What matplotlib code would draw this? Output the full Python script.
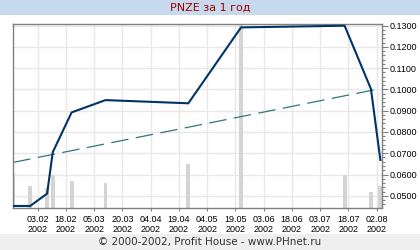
import matplotlib
matplotlib.use("Agg")
import matplotlib.pyplot as plt
import matplotlib.dates as mdates
from matplotlib.patches import Rectangle
from matplotlib.ticker import MultipleLocator, FormatStrFormatter
import pandas as pd
import numpy as np

# price series (trade days)
price_dates = ['2002-01-21', '2002-01-30', '2002-02-08', '2002-02-11', '2002-02-21',
               '2002-03-11', '2002-04-24', '2002-05-22', '2002-07-16', '2002-07-30',
               '2002-08-04']
prices = [0.0452, 0.0452, 0.0510, 0.0705, 0.0892, 0.0950, 0.0935, 0.1292, 0.1300,
          0.1002, 0.0668]

# volume on the same days
volumes = [340, 220, 200, 330, 270, 250, 440, 1840, 330, 160, 220]

# linear trend, start and end
trend_dates = ['2002-01-21', '2002-08-04']
trend_values = [0.0657, 0.1004]

tick_dates = pd.date_range('2002-02-03', periods=13, freq='15D')

title = "PNZE за 1 год"
footer = "© 2000-2002, Profit House - www.PHnet.ru"

W, H = 420, 250
fig = plt.figure(figsize=(W / 100, H / 100), dpi=100)
fig.patch.set_facecolor('white')

# header and footer bands
fig.patches.append(Rectangle((0, 1 - 15 / H), 1, 15 / H, transform=fig.transFigure,
                             facecolor='#c6d9ed', edgecolor='none', zorder=0))
fig.patches.append(Rectangle((0, 0), 1, 16 / H, transform=fig.transFigure,
                             facecolor='#efefef', edgecolor='none', zorder=0))
fig.text(0.5, 1 - 7.5 / H, title, ha='center', va='center', color='#a00000',
         fontsize=8, family='DejaVu Sans')
fig.text(0.5, 8 / H, footer, ha='center', va='center', color='#333333',
         fontsize=7.5, family='DejaVu Sans')

left, right, top, bottom = 13.3, 381.7, 24, 208.3
ax = fig.add_axes([left / W, 1 - bottom / H, (right - left) / W, (bottom - top) / H])

pd_dates = pd.to_datetime(price_dates)
x0 = mdates.date2num(pd.Timestamp('2002-01-21')) + 0.04
x1 = mdates.date2num(pd.Timestamp('2002-08-04')) + 0.7

ax.set_axisbelow(True)
vol = np.array(volumes, dtype=float)
ax.bar(pd_dates, vol / vol.max(), width=2.1, color='#d4d4d4', zorder=1,
       transform=ax.get_xaxis_transform())
ax.plot(pd.to_datetime(trend_dates), trend_values, color='#2f7878', lw=0.9,
        dashes=(14, 6), zorder=2)
ax.plot(pd_dates, prices, color='#003366', lw=1.5, zorder=3, solid_joinstyle='round')

ax.set_xlim(x0, x1)
ax.set_ylim(0.0441, 0.1308)

ax.set_xticks(tick_dates)
ax.xaxis.set_major_formatter(mdates.DateFormatter('%d.%m\n%Y'))
ax.yaxis.set_major_locator(MultipleLocator(0.01))
ax.yaxis.set_minor_locator(MultipleLocator(0.002))
ax.yaxis.set_major_formatter(FormatStrFormatter('%.4f'))
ax.yaxis.tick_right()

ax.grid(True, which='major', color='#e8e8e8', lw=1.0)
for s in ax.spines.values():
    s.set_color('#808080')
    s.set_linewidth(1.0)

ax.tick_params(axis='x', which='major', length=2.5, width=0.8, color='#808080',
               pad=2, labelsize=6.5, labelcolor='black')
ax.tick_params(axis='y', which='major', length=4.5, width=0.8, color='#808080',
               pad=1.5, labelsize=6.5, labelcolor='black')
ax.tick_params(axis='y', which='minor', length=2.2, width=0.8, color='#808080')
for lab in ax.get_xticklabels() + ax.get_yticklabels():
    lab.set_family('Liberation Sans')
    lab.set_linespacing(1.15)

fig.savefig('out.png', dpi=100)
